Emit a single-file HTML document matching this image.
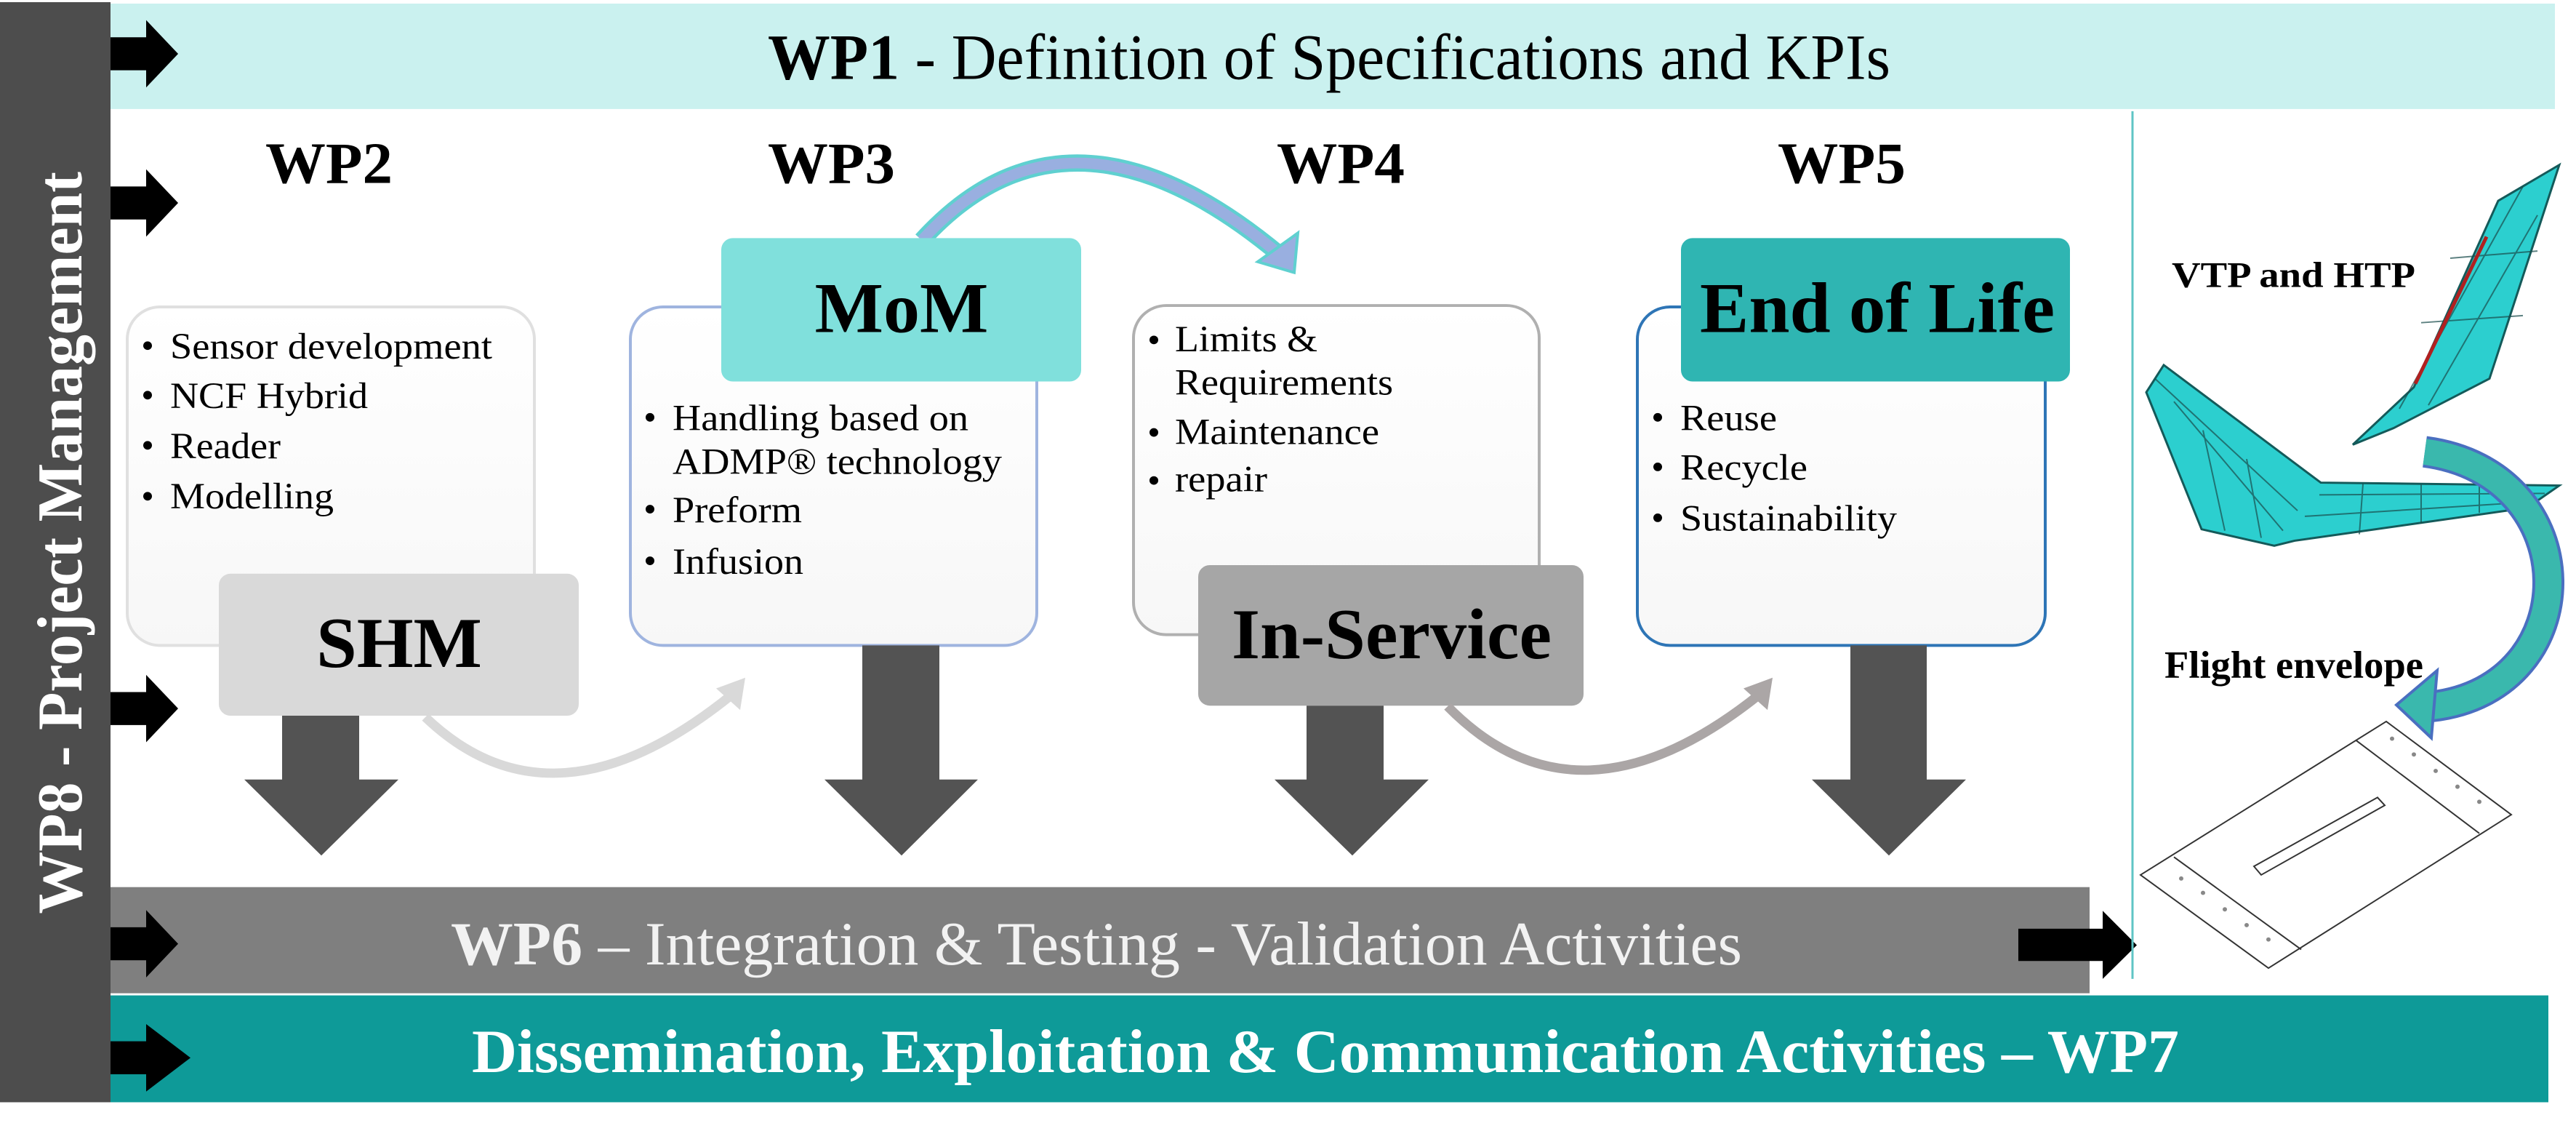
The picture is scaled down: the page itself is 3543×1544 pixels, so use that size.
<!DOCTYPE html>
<html><head><meta charset="utf-8"><style>
html,body{margin:0;padding:0;background:#fff;}
svg{display:block;}
text{font-family:"Liberation Serif",serif;}
</style></head><body>
<svg width="3543" height="1544" viewBox="0 0 3543 1544" xmlns="http://www.w3.org/2000/svg">
<defs>
<linearGradient id="g1" x1="0" y1="0" x2="0" y2="1"><stop offset="0" stop-color="#ffffff"/><stop offset="1" stop-color="#f7f7f7"/></linearGradient>
</defs>
<rect width="3543" height="1544" fill="#fff"/>
<g transform="scale(1,0.986)">
<!-- WP1 band -->
<rect x="152" y="5" width="3362" height="147" fill="#caf1ef"/>
<text x="1056" y="110" font-size="90" textLength="1544" lengthAdjust="spacingAndGlyphs"><tspan font-weight="bold">WP1</tspan> - Definition of Specifications and KPIs</text>
<!-- WP8 bar -->
<rect x="0" y="3" width="152" height="1534" fill="#4d4d4d"/>
<text transform="translate(112,757) rotate(-90)" text-anchor="middle" font-size="88" font-weight="bold" fill="#fff" textLength="1035" lengthAdjust="spacingAndGlyphs">WP8 - Project Management</text>
<!-- left arrows -->
<g fill="#000">
<polygon points="152,52 201,52 201,28 245,75 201,122 201,98 152,98"/>
<polygon points="152,260 201,260 201,236 245,283 201,330 201,306 152,306"/>
<polygon points="152,965 201,965 201,941 245,988 201,1035 201,1011 152,1011"/>
</g>
<!-- WP labels -->
<g font-size="82" font-weight="bold">
<text x="365" y="255" textLength="175" lengthAdjust="spacingAndGlyphs">WP2</text>
<text x="1056" y="255" textLength="175" lengthAdjust="spacingAndGlyphs">WP3</text>
<text x="1756" y="255" textLength="176" lengthAdjust="spacingAndGlyphs">WP4</text>
<text x="2445" y="255" textLength="176" lengthAdjust="spacingAndGlyphs">WP5</text>
</g>
<!-- curved arrow MoM -> WP4 -->
<path d="M1268,335 Q1470,110 1760,355" fill="none" stroke="#5fd0d0" stroke-width="24"/>
<path d="M1268,335 Q1470,110 1760,355" fill="none" stroke="#99afe0" stroke-width="15"/>
<polygon points="1730,365 1785,325 1780,380" fill="#99afe0" stroke="#5fd0d0" stroke-width="4"/>
<!-- WP2 box -->
<rect x="175" y="428" width="560" height="472" rx="45" fill="url(#g1)" stroke="#e0e0e0" stroke-width="4"/>
<g font-size="52">
<text x="234" y="500" textLength="443" lengthAdjust="spacingAndGlyphs">Sensor development</text>
<text x="234" y="569" textLength="272" lengthAdjust="spacingAndGlyphs">NCF Hybrid</text>
<text x="234" y="639" textLength="152" lengthAdjust="spacingAndGlyphs">Reader</text>
<text x="234" y="709" textLength="225" lengthAdjust="spacingAndGlyphs">Modelling</text>
</g>
<g fill="#000"><circle cx="203" cy="482" r="6"/><circle cx="203" cy="551" r="6"/><circle cx="203" cy="621" r="6"/><circle cx="203" cy="692" r="6"/></g>
<!-- WP3 box -->
<rect x="867" y="428" width="559" height="472" rx="45" fill="url(#g1)" stroke="#9fb4df" stroke-width="4"/>
<rect x="992" y="332" width="495" height="200" rx="16" fill="#80e0dc"/>
<text x="1240" y="463" font-size="100" font-weight="bold" text-anchor="middle">MoM</text>
<g font-size="52">
<text x="925" y="600" textLength="407" lengthAdjust="spacingAndGlyphs">Handling based on</text>
<text x="925" y="661" textLength="453" lengthAdjust="spacingAndGlyphs">ADMP® technology</text>
<text x="925" y="728" textLength="178" lengthAdjust="spacingAndGlyphs">Preform</text>
<text x="925" y="800" textLength="180" lengthAdjust="spacingAndGlyphs">Infusion</text>
</g>
<g fill="#000"><circle cx="894" cy="582" r="6"/><circle cx="894" cy="710" r="6"/><circle cx="894" cy="782" r="6"/></g>
<!-- WP4 box -->
<rect x="1559" y="426" width="558" height="459" rx="45" fill="url(#g1)" stroke="#b0b0b0" stroke-width="4"/>
<g font-size="52">
<text x="1616" y="490" textLength="196" lengthAdjust="spacingAndGlyphs">Limits &amp;</text>
<text x="1616" y="550" textLength="300" lengthAdjust="spacingAndGlyphs">Requirements</text>
<text x="1616" y="619" textLength="281" lengthAdjust="spacingAndGlyphs">Maintenance</text>
<text x="1616" y="685" textLength="127" lengthAdjust="spacingAndGlyphs">repair</text>
</g>
<g fill="#000"><circle cx="1587" cy="474" r="6"/><circle cx="1587" cy="603" r="6"/><circle cx="1587" cy="670" r="6"/></g>
<!-- WP5 box -->
<rect x="2252" y="428" width="561" height="472" rx="45" fill="url(#g1)" stroke="#2e75b6" stroke-width="4"/>
<rect x="2312" y="332" width="535" height="200" rx="16" fill="#2fb5b2"/>
<text x="2582" y="463" font-size="100" font-weight="bold" text-anchor="middle" textLength="488" lengthAdjust="spacingAndGlyphs">End of Life</text>
<g font-size="52">
<text x="2311" y="600" textLength="133" lengthAdjust="spacingAndGlyphs">Reuse</text>
<text x="2311" y="669" textLength="175" lengthAdjust="spacingAndGlyphs">Recycle</text>
<text x="2311" y="740" textLength="298" lengthAdjust="spacingAndGlyphs">Sustainability</text>
</g>
<g fill="#000"><circle cx="2280" cy="582" r="6"/><circle cx="2280" cy="651" r="6"/><circle cx="2280" cy="722" r="6"/></g>
<!-- SHM & In-Service boxes -->
<rect x="301" y="800" width="495" height="198" rx="16" fill="#d9d9d9"/>
<text x="549" y="930" font-size="100" font-weight="bold" text-anchor="middle">SHM</text>
<rect x="1648" y="788" width="530" height="196" rx="16" fill="#a6a6a6"/>
<text x="1914" y="918" font-size="100" font-weight="bold" text-anchor="middle" textLength="440" lengthAdjust="spacingAndGlyphs">In-Service</text>
<!-- curved gray arrows -->
<path d="M585,1000 Q760,1170 1005,970" fill="none" stroke="#d9d9d9" stroke-width="13"/>
<polygon points="985,960 1025,945 1018,990" fill="#d9d9d9"/>
<path d="M1991,985 Q2170,1170 2418,970" fill="none" stroke="#aba6a6" stroke-width="13"/>
<polygon points="2398,960 2438,945 2431,990" fill="#aba6a6"/>
<!-- down arrows -->
<g fill="#535353">
<polygon points="388,998 494,998 494,1087 548,1087 442,1193 336,1087 388,1087"/>
<polygon points="1186,900 1292,900 1292,1087 1345,1087 1240,1193 1134,1087 1186,1087"/>
<polygon points="1797,984 1903,984 1903,1087 1965,1087 1860,1193 1753,1087 1797,1087"/>
<polygon points="2545,900 2650,900 2650,1087 2704,1087 2598,1193 2492,1087 2545,1087"/>
</g>
<!-- WP6 band -->
<rect x="152" y="1237" width="2722" height="148" fill="#7f7f7f"/>
<text x="620" y="1345" font-size="86" fill="#f2f2f2" textLength="1776" lengthAdjust="spacingAndGlyphs"><tspan font-weight="bold">WP6</tspan> – Integration &amp; Testing - Validation Activities</text>
<polygon points="152,1293 201,1293 201,1269 245,1316 201,1363 201,1339 152,1339" fill="#000"/>
<polygon points="2776,1295 2892,1295 2892,1270 2939,1318 2892,1365 2892,1340 2776,1340" fill="#000"/>
<!-- WP7 band -->
<rect x="152" y="1388" width="3353" height="149" fill="#0e9a98"/>
<text x="649" y="1495" font-size="86" font-weight="bold" fill="#fff" textLength="2348" lengthAdjust="spacingAndGlyphs">Dissemination, Exploitation &amp; Communication Activities – WP7</text>
<polygon points="152,1452 201,1452 201,1428 262,1475 201,1522 201,1498 152,1498" fill="#000"/>
<!-- vertical divider -->
<line x1="2933" y1="155" x2="2933" y2="1365" stroke="#5fc5c5" stroke-width="3"/>
<!-- right side labels -->
<text x="2987" y="400" font-size="50" font-weight="bold" textLength="335" lengthAdjust="spacingAndGlyphs">VTP and HTP</text>
<text x="2977" y="945" font-size="54" font-weight="bold" textLength="356" lengthAdjust="spacingAndGlyphs">Flight envelope</text>
<!-- plane -->
<polygon points="2952,547 2976,509 3192,673 3520,677 3476,708 3156,754 3128,761 3028,738" fill="#2ccfcf" stroke="#145a5a" stroke-width="3"/>
<g stroke="#1a4d4d" stroke-width="2" opacity="0.7">
<line x1="2964" y1="528" x2="3160" y2="712"/><line x1="2990" y1="560" x2="3140" y2="740"/>
<line x1="3190" y1="690" x2="3500" y2="688"/><line x1="3170" y1="720" x2="3480" y2="700"/>
<line x1="3030" y1="600" x2="3060" y2="740"/><line x1="3090" y1="640" x2="3110" y2="750"/>
<line x1="3250" y1="675" x2="3245" y2="745"/><line x1="3330" y1="676" x2="3330" y2="730"/><line x1="3410" y1="676" x2="3410" y2="715"/>
</g>
<polygon points="3236,620 3320,540 3436,280 3520,230 3424,528 3292,597" fill="#2ccfcf" stroke="#145a5a" stroke-width="3"/>
<g stroke="#1a4d4d" stroke-width="2" opacity="0.7">
<line x1="3300" y1="570" x2="3470" y2="260"/><line x1="3340" y1="565" x2="3490" y2="300"/>
<line x1="3330" y1="450" x2="3470" y2="440"/><line x1="3370" y1="360" x2="3490" y2="350"/>
</g>
<line x1="3322" y1="535" x2="3420" y2="330" stroke="#b02020" stroke-width="5"/>
<!-- panel -->
<g fill="#fff" stroke="#333" stroke-width="2">
<polygon points="2944,1220 3282,1006 3454,1136 3120,1350"/>
<line x1="2990" y1="1195" x2="3165" y2="1324"/>
<line x1="3240" y1="1032" x2="3410" y2="1162"/>
<polygon points="3100,1208 3270,1112 3280,1123 3110,1220"/>
</g>
<g fill="#888">
<circle cx="3000" cy="1225" r="3"/><circle cx="3030" cy="1245" r="3"/><circle cx="3060" cy="1268" r="3"/><circle cx="3090" cy="1290" r="3"/><circle cx="3120" cy="1310" r="3"/>
<circle cx="3290" cy="1030" r="3"/><circle cx="3320" cy="1052" r="3"/><circle cx="3350" cy="1075" r="3"/><circle cx="3380" cy="1097" r="3"/><circle cx="3410" cy="1118" r="3"/>
</g>
<!-- big teal arrow -->
<path d="M3335,630 C3560,660 3560,960 3345,985" fill="none" stroke="#4a6fc0" stroke-width="44"/>
<path d="M3335,630 C3560,660 3560,960 3345,985" fill="none" stroke="#3ab8ad" stroke-width="36"/>
<polygon points="3352,935 3296,983 3344,1029" fill="#3ab8ad" stroke="#4a6fc0" stroke-width="4"/>
</g>
</svg>
</body></html>
